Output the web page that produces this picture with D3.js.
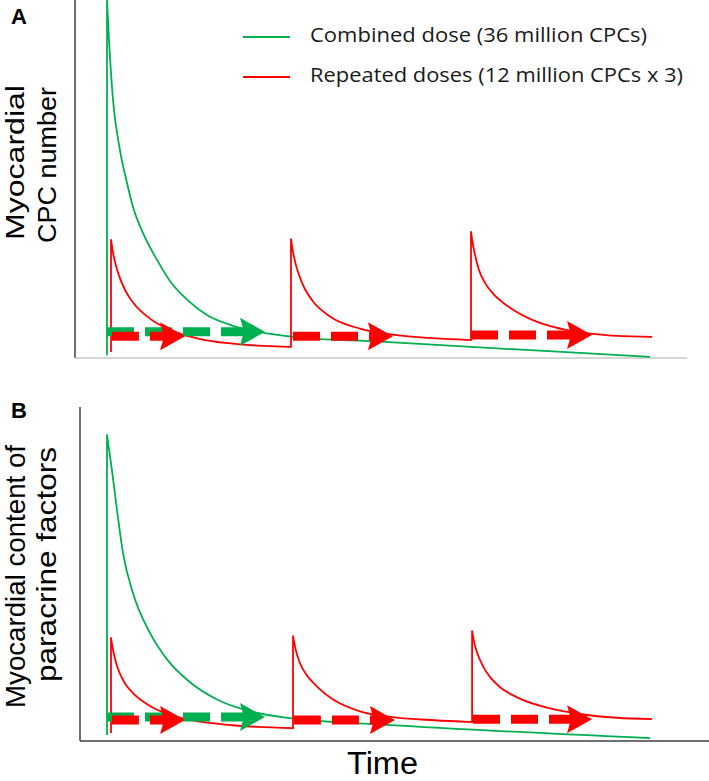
<!DOCTYPE html>
<html><head><meta charset="utf-8">
<script src="https://cdn.jsdelivr.net/npm/d3@7"></script>
<style>body{margin:0;background:#fff}svg{display:block}</style>
</head><body>
<svg id="chart" width="709" height="781"></svg>
<script>
// ---------- DATA (time in dosing intervals, level in % of combined-dose peak) ----------
const seriesNames = ["Combined dose (36 million CPCs)", "Repeated doses (12 million CPCs x 3)"];
const panelLabels = ["A", "B"];
const yLabelsA = ["Myocardial", "CPC number"];
const yLabelsB = ["Myocardial content of", "paracrine factors"];
const xLabel = "Time";

// Panel A: myocardial CPC number
const combinedA = [[0,0.8],[0,100],[0.011,88.8],[0.033,72.1],[0.071,58.1],[0.110,48.9],[0.143,42.2],
  [0.198,34.9],[0.275,27.4],[0.346,21.5],[0.440,16.3],[0.549,12.0],[0.692,9.0],[0.841,7.2],
  [1.022,5.9],[1.5,4.55],[2.0,3.1],[2.5,1.7],[2.984,0.3]];
const repeatedA = [[0.022,1.7],[0.022,33.0],[0.033,29.5],[0.044,26.8],[0.066,23.0],[0.099,19.0],
  [0.143,15.5],[0.236,11.0],[0.330,8.2],[0.511,5.3],[0.692,4.0],[1.011,3.1],
  [1.011,33.2],[1.022,29.7],[1.033,27.0],[1.055,23.2],[1.088,19.2],[1.132,15.8],[1.225,11.6],
  [1.390,8.2],[1.571,6.5],[1.761,5.6],[2.0,5.0],
  [2.0,35.2],[2.011,31.6],[2.022,28.8],[2.044,24.6],[2.077,21.0],[2.121,18.0],[2.180,15.3],
  [2.231,13.5],[2.379,9.8],[2.527,7.8],[2.654,6.8],[2.8,6.2],[2.995,5.9]];
// Panel B: myocardial content of paracrine factors
const combinedB = [[0,1.7],[0,85.5],[0.027,75.7],[0.055,64.5],[0.088,52.5],[0.143,41.3],[0.236,30.2],
  [0.330,22.8],[0.456,16.4],[0.604,11.6],[0.786,8.3],[1.016,6.3],[1.516,4.6],[2.984,0.8]];
const repeatedB = [[0.022,2.2],[0.022,28.8],[0.033,25.5],[0.050,21.8],[0.071,18.8],[0.100,16.0],
  [0.143,13.4],[0.236,9.8],[0.330,7.6],[0.511,5.4],[0.692,4.4],[1.022,3.6],
  [1.022,29.3],[1.038,25.3],[1.060,21.8],[1.100,18.2],[1.154,15.2],[1.242,11.6],[1.390,8.3],
  [1.582,6.6],[1.800,5.8],[2.006,5.3],
  [2.006,30.7],[2.020,27.0],[2.040,23.8],[2.070,20.5],[2.104,17.9],[2.160,15.0],[2.253,12.2],
  [2.434,9.1],[2.615,7.4],[2.800,6.5],[2.995,6.1]];

// Duration arrows: [series index, start time, end time, level]
const arrowsA = [[0,0,0.868,7.3],[1,0.027,0.429,6.1],[1,1.022,1.571,6.1],[1,2.0,2.665,6.4]];
const arrowsB = [[0,0,0.868,6.7],[1,0.027,0.429,5.9],[1,1.027,1.582,5.9],[1,2.011,2.665,6.1]];

// ---------- STYLE / LAYOUT ----------
const colors = ["#00b050", "#ff0000"];
const svg = d3.select("#chart");
const x = d3.scaleLinear().domain([0, 3]).range([107, 653]);
const yA = d3.scaleLinear().domain([0, 100]).range([358, 0]);
const yB = d3.scaleLinear().domain([0, 100]).range([741, 383]);

function pathFor(points, y) {
  const line = d3.line().x(d => x(d[0])).y(d => y(d[1])).curve(d3.curveMonotoneX);
  const runs = []; let cur = [points[0]];
  for (let i = 1; i < points.length; i++) {
    if (points[i][0] === points[i-1][0]) { runs.push(cur); cur = [points[i]]; }
    else cur.push(points[i]);
  }
  runs.push(cur);
  let d = "";
  runs.forEach((r, i) => {
    let s = r.length === 1 ? `M${x(r[0][0])},${y(r[0][1])}` : line(r);
    d += i === 0 ? s : s.replace(/^M/, "L");
  });
  return d;
}

function drawPanel(combined, repeated, arrows, y) {
  const g = svg.append("g");
  [combined, repeated].forEach((pts, i) => {
    g.append("path").attr("d", pathFor(pts, y)).attr("fill", "none")
      .attr("stroke", colors[i]).attr("stroke-width", 1.8).attr("stroke-linejoin", "round");
  });
  const L = 25, H = 14, N = 4;
  arrows.forEach(a => {
    const c = colors[a[0]], x0 = x(a[1]), x1 = x(a[2]), yy = y(a[3]);
    g.append("line").attr("x1", x0).attr("x2", x1 - L + N).attr("y1", yy).attr("y2", yy)
      .attr("stroke", c).attr("stroke-width", 9).attr("stroke-dasharray", "27,11");
    g.append("path").attr("d", `M${x1},${yy}L${x1-L},${yy-H}L${x1-L+N},${yy}L${x1-L},${yy+H}Z`)
      .attr("fill", c);
  });
}

// Axes
svg.append("line").attr("x1", 75).attr("x2", 75).attr("y1", 0).attr("y2", 358)
  .attr("stroke", "#404040").attr("stroke-width", 1.5);
svg.append("line").attr("x1", 75).attr("x2", 687).attr("y1", 358).attr("y2", 358)
  .attr("stroke", "#c8c8c8").attr("stroke-width", 1.5);
svg.append("line").attr("x1", 80).attr("x2", 80).attr("y1", 407).attr("y2", 741)
  .attr("stroke", "#404040").attr("stroke-width", 1.5);
svg.append("line").attr("x1", 80).attr("x2", 709).attr("y1", 741).attr("y2", 741)
  .attr("stroke", "#404040").attr("stroke-width", 1.5);

drawPanel(combinedA, repeatedA, arrowsA, yA);
drawPanel(combinedB, repeatedB, arrowsB, yB);

// Legend
const legY = [37, 77];
seriesNames.forEach((n, i) => {
  svg.append("line").attr("x1", 243).attr("x2", 290).attr("y1", legY[i]).attr("y2", legY[i])
    .attr("stroke", colors[i]).attr("stroke-width", 2);
  svg.append("text").attr("x", 310).attr("y", legY[i] + 5).text(n)
    .attr("font-family", "'Open Sans', sans-serif").attr("font-size", 20).attr("fill", "#1a1a1a")
    .attr("textLength", i === 0 ? 337 : 373).attr("lengthAdjust", "spacingAndGlyphs");
});

// Panel letters
svg.append("text").attr("x", 11).attr("y", 24).text(panelLabels[0])
  .attr("font-family", "'Liberation Sans', Arial, sans-serif").attr("font-weight", "bold").attr("font-size", 22);
svg.append("text").attr("x", 11).attr("y", 418).text(panelLabels[1])
  .attr("font-family", "'Liberation Sans', Arial, sans-serif").attr("font-weight", "bold").attr("font-size", 22);

// Y labels (rotated)
function ylab(txt, bx, startY, len, size) {
  svg.append("text").attr("transform", `translate(${bx},${startY}) rotate(-90)`).text(txt)
    .attr("font-family", "'Liberation Sans', Arial, sans-serif").attr("font-size", size).attr("fill", "#000")
    .attr("textLength", len).attr("lengthAdjust", "spacingAndGlyphs");
}
ylab(yLabelsA[0], 24, 240, 155, 26);
ylab(yLabelsA[1], 56, 243, 156, 26);
ylab(yLabelsB[0], 25, 708, 263, 28);
ylab(yLabelsB[1], 56, 682, 235, 28);

// X label
svg.append("text").attr("x", 347).attr("y", 774).text(xLabel)
  .attr("font-family", "'Liberation Sans', Arial, sans-serif").attr("font-size", 31).attr("fill", "#000")
  .attr("textLength", 71).attr("lengthAdjust", "spacingAndGlyphs");
</script>
</body></html>
